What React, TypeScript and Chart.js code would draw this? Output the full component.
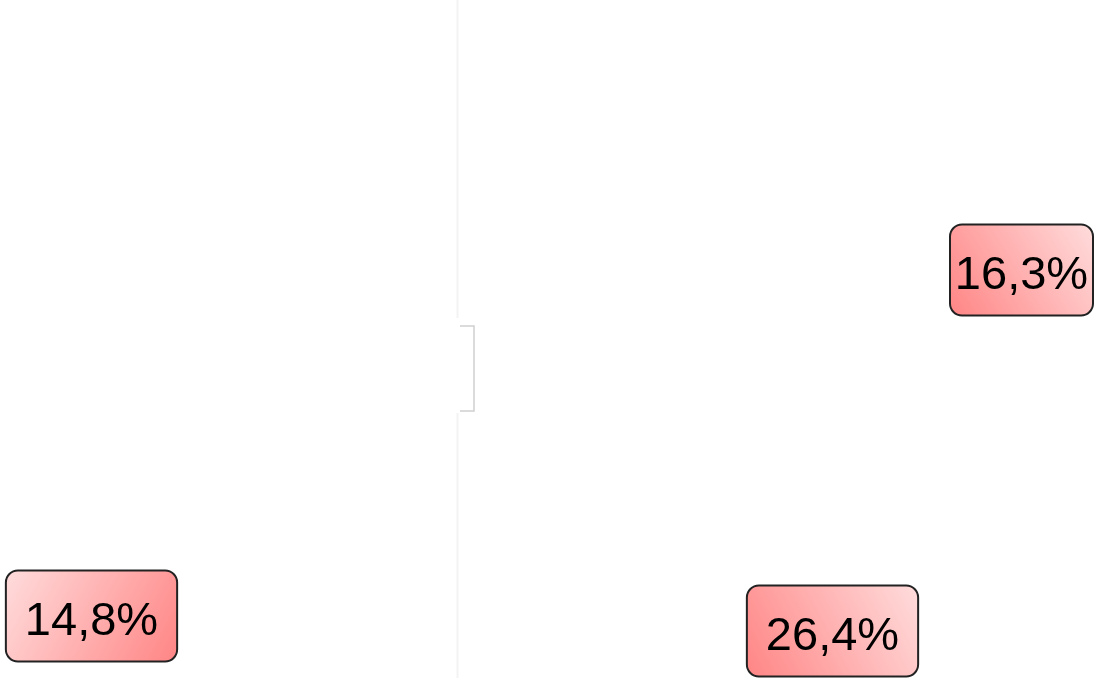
import React, { useEffect, useRef } from "react";
import { Chart, registerables } from "chart.js";

Chart.register(...registerables);

const labels = ["14,8%", "16,3%", "26,4%"];
const values = [14.8, 16.3, 26.4];
const xPos = [-366.5, 563.5, 374.5];
const yPos = [-248, 98, -263];
const gradientDir = ["tl-br", "bl-tr", "bl-tr"];

const labelPlugin = {
  id: "labelBoxes",
  beforeDatasetsDraw(chart: any) {
    const ctx = chart.ctx;
    const xs = chart.scales.x;
    const ys = chart.scales.y;
    const x0 = Math.round(xs.getPixelForValue(0)) - 0.5;
    ctx.save();
    ctx.strokeStyle = "#f3f3f3";
    ctx.lineWidth = 2;
    ctx.beginPath();
    ctx.moveTo(x0, 0);
    ctx.lineTo(x0, ys.getPixelForValue(50));
    ctx.moveTo(x0, ys.getPixelForValue(-45));
    ctx.lineTo(x0, chart.height);
    ctx.stroke();
    ctx.strokeStyle = "#cfcfcf";
    ctx.lineWidth = 1.5;
    ctx.beginPath();
    const bx0 = xs.getPixelForValue(2);
    const bx1 = xs.getPixelForValue(16);
    const by0 = ys.getPixelForValue(42);
    const by1 = ys.getPixelForValue(-43);
    ctx.moveTo(bx0, by0);
    ctx.lineTo(bx1, by0);
    ctx.lineTo(bx1, by1);
    ctx.lineTo(bx0, by1);
    ctx.stroke();
    ctx.restore();
  },
  afterDatasetsDraw(chart: any) {
    const ctx = chart.ctx;
    const meta = chart.getDatasetMeta(0);
    ctx.save();
    ctx.font = "47px Arial, 'Liberation Sans', sans-serif";
    meta.data.forEach((pt: any, i: number) => {
      const text = labels[i];
      const tw = ctx.measureText(text).width;
      const cx = pt.x;
      const cy = pt.y;
      let w = tw + 38;
      const h = 91;
      let left = cx - w / 2;
      let right = cx + w / 2;
      if (right > chart.width - 1) {
        right = chart.width - 1;
        left = 2 * cx - right;
      }
      w = right - left;
      const top = cy - h / 2;
      const dir = gradientDir[i];
      let g;
      if (dir === "tl-br") g = ctx.createLinearGradient(left, top, right, top + h);
      else g = ctx.createLinearGradient(left, top + h, right, top);
      if (dir === "tl-br") {
        g.addColorStop(0, "#ffdcdc");
        g.addColorStop(1, "#ff8585");
      } else {
        g.addColorStop(0, "#ff8585");
        g.addColorStop(1, "#ffdcdc");
      }
      ctx.beginPath();
      ctx.roundRect(left, top, w, h, 12);
      ctx.fillStyle = g;
      ctx.fill();
      ctx.lineWidth = 2;
      ctx.strokeStyle = "#222222";
      ctx.stroke();
      ctx.fillStyle = "#000000";
      ctx.textAlign = "center";
      ctx.textBaseline = "alphabetic";
      ctx.fillText(text, cx, cy + 19);
    });
    ctx.restore();
  },
};

export default function App() {
  const ref = useRef<HTMLCanvasElement>(null);
  useEffect(() => {
    if (!ref.current) return;
    const chart = new Chart(ref.current, {
      type: "scatter",
      data: {
        datasets: [
          {
            label: "Share",
            data: values.map((v, i) => ({ x: xPos[i], y: yPos[i], v })),
            pointRadius: 0,
            pointHoverRadius: 0,
          },
        ],
      },
      options: {
        animation: false,
        responsive: false,
        layout: { padding: 0 },
        plugins: { legend: { display: false }, tooltip: { enabled: false } },
        scales: {
          x: { type: "linear", min: -458, max: 636, display: false },
          y: { type: "linear", min: -310, max: 368, display: false },
        },
      },
      plugins: [labelPlugin],
    });
    return () => chart.destroy();
  }, []);
  return (
    <div style={{ position: "absolute", left: 0, top: 0, width: 1094, height: 678, background: "#fff" }}>
      <canvas ref={ref} width={1094} height={678} style={{ display: "block" }} />
    </div>
  );
}
